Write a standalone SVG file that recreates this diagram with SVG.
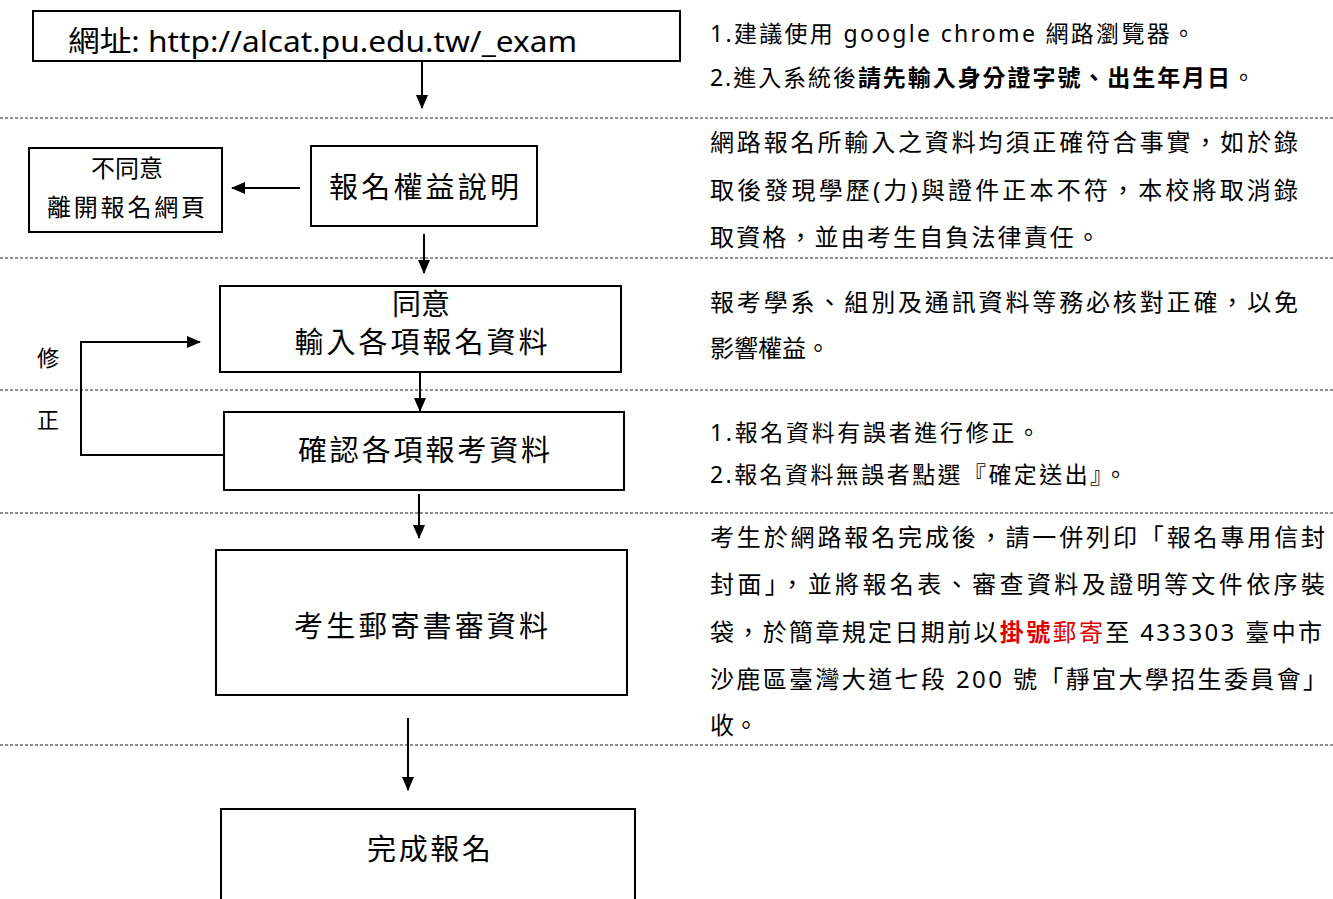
<svg xmlns="http://www.w3.org/2000/svg" width="1333" height="899" viewBox="0 0 1333 899">
<defs>
<marker id="ah" markerWidth="14" markerHeight="14" refX="13" refY="7" orient="auto" markerUnits="userSpaceOnUse">
<path d="M0,1 L14,7 L0,13 Z" fill="#000"/>
</marker>
<style>
.box{fill:#fff;stroke:#000;stroke-width:2}
.dash{stroke:#222;stroke-width:1;stroke-dasharray:3,2;fill:none}
.con{stroke:#000;stroke-width:2;fill:none}
text{font-family:"Noto Sans","Noto Sans CJK TC",sans-serif;fill:#000}
.bt{font-size:29px;text-anchor:middle}
.nt{font-size:24px}
.st{font-size:23px}
.lt{font-size:24px;text-anchor:middle}
.side{font-size:22px}
.b{font-weight:bold}
.red{fill:#e00000}
</style>
</defs>
<rect width="1333" height="899" fill="#fff"/>

<g id="separators">
<line class="dash" x1="0" y1="118" x2="1333" y2="118"/>
<line class="dash" x1="0" y1="258" x2="1333" y2="258"/>
<line class="dash" x1="0" y1="390" x2="1333" y2="390"/>
<line class="dash" x1="0" y1="513" x2="1333" y2="513"/>
<line class="dash" x1="0" y1="745" x2="1333" y2="745"/>
</g>

<g id="n-url">
<rect class="box" x="33" y="11" width="647" height="50"/>
<text x="68" y="52" font-size="29" textLength="509" lengthAdjust="spacingAndGlyphs">網址: http://alcat.pu.edu.tw/_exam</text>
</g>

<g id="n-disagree">
<rect class="box" x="29" y="148" width="193" height="84"/>
<text class="lt" x="127" y="177">不同意</text>
<text class="lt" x="126" y="216" textLength="158">離開報名網頁</text>
</g>

<g id="n-rights">
<rect class="box" x="311" y="146" width="226" height="80"/>
<text class="bt" x="424" y="198" textLength="190">報名權益說明</text>
</g>

<g id="n-input">
<rect class="box" x="220" y="286" width="401" height="86"/>
<text class="bt" x="421" y="315">同意</text>
<text class="bt" x="421" y="353" textLength="253">輸入各項報名資料</text>
</g>

<g id="n-confirm">
<rect class="box" x="224" y="412" width="400" height="78"/>
<text class="bt" x="424" y="461" textLength="252">確認各項報考資料</text>
</g>

<g id="n-mail">
<rect class="box" x="216" y="550" width="411" height="145"/>
<text class="bt" x="421" y="637" textLength="254">考生郵寄書審資料</text>
</g>

<g id="n-done">
<rect class="box" x="221" y="809" width="414" height="100"/>
<text class="bt" x="429" y="860" textLength="124">完成報名</text>
</g>

<g id="side-label">
<text class="side" x="37" y="366">修</text>
<text class="side" x="37" y="428">正</text>
</g>

<g id="connectors">
<line class="con" x1="422" y1="61" x2="422" y2="108" marker-end="url(#ah)"/>
<line class="con" x1="300" y1="188" x2="232" y2="188" marker-end="url(#ah)"/>
<line class="con" x1="424" y1="234" x2="424" y2="273" marker-end="url(#ah)"/>
<line class="con" x1="420" y1="372" x2="420" y2="411" marker-end="url(#ah)"/>
<polyline class="con" points="224,455 81,455 81,342 200,342" marker-end="url(#ah)"/>
<line class="con" x1="419" y1="494" x2="419" y2="538" marker-end="url(#ah)"/>
<line class="con" x1="408" y1="718" x2="408" y2="790" marker-end="url(#ah)"/>
</g>

<g id="notes">
<text class="st" x="710" y="42" textLength="485">1.建議使用 google chrome 網路瀏覽器。</text>
<text class="st" x="710" y="86" textLength="545">2.進入系統後<tspan class="b">請先輸入身分證字號、出生年月日</tspan>。</text>

<text class="nt" x="710" y="151" textLength="588">網路報名所輸入之資料均須正確符合事實，如於錄</text>
<text class="nt" x="710" y="199" textLength="588">取後發現學歷(力)與證件正本不符，本校將取消錄</text>
<text class="nt" x="710" y="246" textLength="390">取資格，並由考生自負法律責任。</text>

<text class="nt" x="710" y="311" textLength="588">報考學系、組別及通訊資料等務必核對正確，以免</text>
<text class="nt" x="710" y="357">影響權益。</text>

<text class="st" x="710" y="441" textLength="330">1.報名資料有誤者進行修正。</text>
<text class="st" x="710" y="483" textLength="417">2.報名資料無誤者點選『確定送出』。</text>

<text class="nt" x="710" y="546" textLength="615">考生於網路報名完成後，請一併列印「報名專用信封</text>
<text class="nt" x="710" y="593" textLength="615">封面」，並將報名表、審查資料及證明等文件依序裝</text>
<text class="nt" x="710" y="641" textLength="612">袋，於簡章規定日期前以<tspan class="b red">掛號</tspan><tspan class="red">郵寄</tspan>至 433303 臺中市</text>
<text class="nt" x="710" y="688" textLength="617">沙鹿區臺灣大道七段 200 號「靜宜大學招生委員會」</text>
<text class="nt" x="710" y="734">收。</text>
</g>
</svg>
